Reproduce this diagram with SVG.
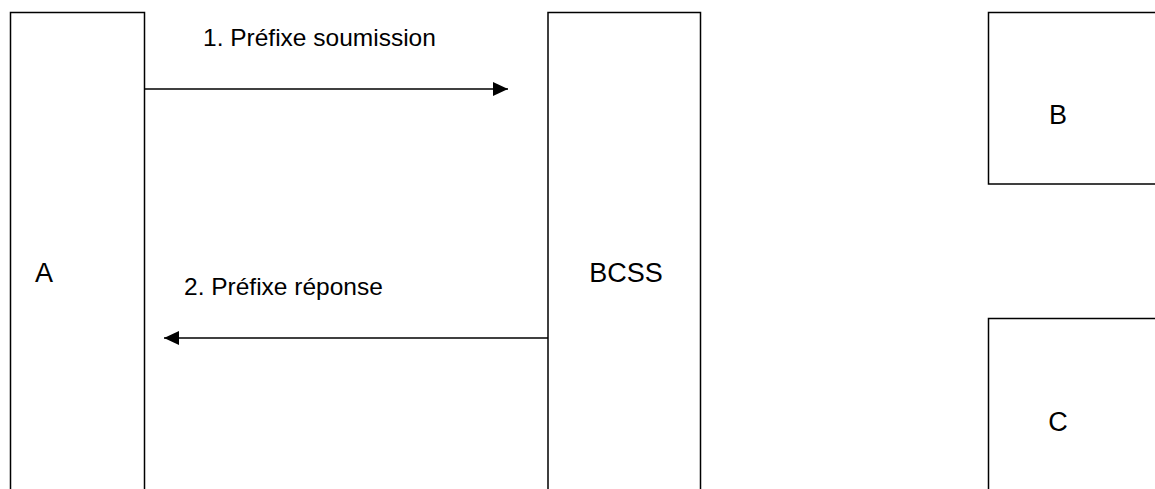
<svg xmlns="http://www.w3.org/2000/svg" width="1155" height="489" viewBox="0 0 1155 489">
<style>
.box{fill:#fff;stroke:#000;stroke-width:1.5}
.big{font-family:"Liberation Sans",Arial,sans-serif;font-size:27px;fill:#000}
.lbl{font-family:"Liberation Sans",Arial,sans-serif;font-size:24.5px;fill:#000}
.conn{stroke:#000;stroke-width:1.5;fill:none}
</style>
<defs>
<marker id="ah" markerWidth="16" markerHeight="14" refX="15" refY="7" orient="auto" markerUnits="userSpaceOnUse">
<path d="M0,0 L15,7 L0,14 Z" fill="#000"/>
</marker>
</defs>
<rect width="1155" height="489" fill="#fff"/>
<g id="node-A">
<rect class="box" x="10.5" y="12.5" width="134" height="500"/>
<text class="big" x="44" y="282" text-anchor="middle">A</text>
</g>
<g id="node-BCSS">
<rect class="box" x="548" y="12.5" width="152.5" height="500"/>
<text class="big" x="626" y="282" text-anchor="middle">BCSS</text>
</g>
<g id="node-B">
<rect class="box" x="988.5" y="12.5" width="200" height="171.5"/>
<text class="big" x="1058" y="124" text-anchor="middle">B</text>
</g>
<g id="node-C">
<rect class="box" x="988.5" y="318.5" width="200" height="200"/>
<text class="big" x="1058" y="431" text-anchor="middle">C</text>
</g>
<g id="connectors">
<line class="conn" x1="145" y1="89" x2="508" y2="89" marker-end="url(#ah)"/>
<line class="conn" x1="548" y1="338" x2="164" y2="338" marker-end="url(#ah)"/>
<text class="lbl" x="203" y="46">1. Préfixe soumission</text>
<text class="lbl" x="184" y="295">2. Préfixe réponse</text>
</g>
</svg>
